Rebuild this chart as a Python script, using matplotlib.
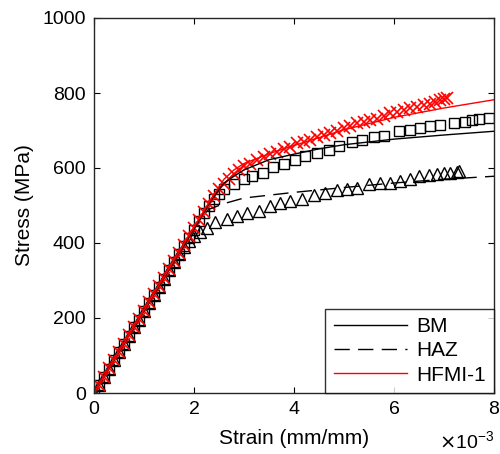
import matplotlib
matplotlib.use("Agg")
import matplotlib.pyplot as plt

plt.rcParams['font.family'] = ['Liberation Sans', 'DejaVu Sans']

# strain in units of 1e-3 mm/mm, stress in MPa
bm_line_x = [0, 2.35, 2.6, 2.8, 3.0, 3.5, 4.0, 4.5, 5.0, 6.0, 7.0, 8.0]
bm_line_y = [0, 515, 560, 578, 595, 622, 637, 651, 662, 677, 688, 698]
haz_line_x = [0, 2.15, 2.3, 2.6, 3.0, 4.0, 5.0, 6.0, 7.0, 8.0]
haz_line_y = [0, 470, 490, 505, 520, 535, 548, 560, 570, 578]
hfmi_line_x = [0, 2.4, 2.6, 2.8, 3.0, 3.5, 4.0, 5.0, 6.0, 7.0, 8.0]
hfmi_line_y = [0, 530, 570, 595, 612, 638, 660, 702, 735, 760, 782]

bm_exp_x = [0.0, 0.1, 0.2, 0.3, 0.4, 0.5, 0.6, 0.7, 0.8, 0.9, 1.0, 1.1, 1.2, 1.3,
            1.4, 1.5, 1.6, 1.7, 1.8, 1.9, 2.0, 2.1, 2.2, 2.3, 2.4, 2.5, 2.6,
            2.79, 2.99, 3.15, 3.37, 3.57, 3.79, 4.02, 4.22, 4.45, 4.69, 4.90,
            5.15, 5.35, 5.59, 5.79, 6.09, 6.32, 6.52, 6.72, 6.92, 7.19, 7.42,
            7.55, 7.69, 7.89]
bm_exp_y = [0, 22, 44, 65, 87, 109, 131, 153, 175, 196, 218, 240, 262, 284,
            305, 327, 349, 371, 393, 414, 436, 458, 480, 500, 518, 532, 545,
            558, 570, 579, 588, 603, 612, 622, 631, 640, 649, 658,
            670, 675, 683, 686, 698, 702, 707, 711, 716, 720, 724,
            729, 730, 734]

haz_exp_x = [0.0, 0.1, 0.2, 0.3, 0.4, 0.5, 0.6, 0.7, 0.8, 0.9, 1.0, 1.1, 1.2, 1.3,
             1.4, 1.5, 1.6, 1.7, 1.8, 1.9, 2.0, 2.12, 2.25, 2.42, 2.65, 2.85,
             3.05, 3.29, 3.52, 3.72, 3.92, 4.15, 4.39, 4.62, 4.85, 5.05, 5.25,
             5.49, 5.72, 5.92, 6.12, 6.32, 6.49, 6.69, 6.85, 6.99, 7.12, 7.25, 7.30]
haz_exp_y = [0, 22, 44, 65, 87, 109, 131, 153, 175, 196, 218, 240, 262, 284,
             305, 327, 349, 371, 390, 405, 418, 430, 441, 455, 463, 472,
             481, 486, 499, 506, 512, 517, 527, 534, 541, 543, 548,
             557, 561, 561, 566, 572, 579, 581, 583, 586, 588, 589, 592]

hfmi_exp_x = [0.0, 0.1, 0.2, 0.3, 0.4, 0.5, 0.6, 0.7, 0.8, 0.9, 1.0, 1.1, 1.2, 1.3,
              1.4, 1.5, 1.6, 1.7, 1.8, 1.9, 2.0, 2.1, 2.2, 2.3, 2.4, 2.5, 2.6, 2.7,
              2.79, 2.89, 2.99, 3.12, 3.25, 3.39, 3.52, 3.65, 3.79, 3.92, 4.05,
              4.19, 4.32, 4.45, 4.59, 4.72, 4.85, 4.99, 5.12, 5.25, 5.39, 5.52,
              5.65, 5.79, 5.92, 6.05, 6.19, 6.32, 6.45, 6.59, 6.72, 6.82, 6.92,
              6.99, 7.05]
hfmi_exp_y = [0, 22, 44, 66, 88, 110, 132, 154, 176, 198, 220, 242, 264, 286,
              308, 330, 352, 374, 396, 418, 440, 462, 484, 505, 525, 543, 558, 570,
              583, 595, 605, 612, 621, 630, 637, 644, 650, 657, 666,
              670, 675, 682, 688, 694, 700, 706, 712, 719, 724, 728,
              732, 739, 746, 750, 755, 759, 764, 768, 772, 777, 781,
              783, 786]

fig = plt.figure(figsize=(5.0, 4.54), dpi=100)
ax = fig.add_axes([94/500, 1-393/454, 400/500, 375/454])

ax.plot(bm_exp_x, bm_exp_y, linestyle='none', marker='s', markersize=6.5,
        markerfacecolor='none', markeredgecolor='black', markeredgewidth=1.0)
ax.plot(haz_exp_x, haz_exp_y, linestyle='none', marker='^', markersize=8,
        markerfacecolor='none', markeredgecolor='black', markeredgewidth=1.0)
ax.plot(hfmi_exp_x, hfmi_exp_y, linestyle='none', marker='x', markersize=8,
        markeredgecolor='red', markeredgewidth=1.2)

l1, = ax.plot(bm_line_x, bm_line_y, color='black', lw=1.0, label='BM')
l2, = ax.plot(haz_line_x, haz_line_y, color='black', lw=1.0,
              dashes=(11, 6), label='HAZ')
l3, = ax.plot(hfmi_line_x, hfmi_line_y, color='red', lw=1.0, label='HFMI-1')

ax.set_xlim(0, 8)
ax.set_ylim(0, 1000)
ax.set_xticks([0, 2, 4, 6, 8])
ax.set_yticks([0, 200, 400, 600, 800, 1000])
ax.tick_params(direction='in', length=4, width=0.8, labelsize=14,
               top=True, right=True, labeltop=False, labelright=False, pad=6)
for s in ax.spines.values():
    s.set_linewidth(1.0)
    s.set_color('#262626')

ax.set_xlabel('Strain (mm/mm)', fontsize=15, labelpad=8)
ax.set_ylabel('Stress (MPa)', fontsize=15, labelpad=6)
ax.text(1.0, -0.157, r'$\times\mathregular{10^{-3}}$', transform=ax.transAxes,
        ha='right', va='bottom', fontsize=14)

leg = ax.legend(handles=[l1, l2, l3], loc='lower right', fontsize=15,
                frameon=True, fancybox=False, edgecolor='black',
                borderaxespad=0.0, handlelength=3.5, handletextpad=0.45,
                labelspacing=0.25, borderpad=0.4)
leg.get_frame().set_linewidth(1.0)

fig.savefig('out.png', dpi=100)
